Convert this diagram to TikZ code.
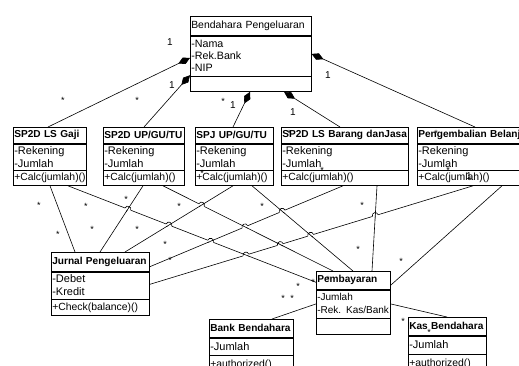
\documentclass[tikz,border=0pt]{standalone}
\usepackage{fontspec}
\setmainfont{Liberation Sans}
\usetikzlibrary{positioning,arrows.meta,calc}

% line jump: #1--#2 jumps over #3--#4 (#1 is the left end)
\newcommand\linehop[4]{%
  \coordinate (h) at (intersection of #1--#2 and #3--#4);
  \draw[white,line width=2pt] ($(h)!3pt!(#1)$) -- ($(h)!3pt!(#2)$);
  \draw ($(h)!3pt!(#3)$) -- ($(h)!3pt!(#4)$);
  \draw ($(h)!3pt!(#1)$) to[bend left=90,looseness=1.7] ($(h)!3pt!(#2)$);
}

\begin{document}
\begin{tikzpicture}
  [x=1pt,y=1pt,line width=0.6pt,
   every node/.style={inner xsep=1pt,inner ysep=0pt},
   box/.style={draw,anchor=north west,align=left},
   head/.style={box,font=\bfseries\fontsize{10.1}{12}\selectfont},
   attr/.style={box,font=\fontsize{11}{13}\selectfont},
   meth/.style={box,font=\fontsize{10.4}{12}\selectfont},
   mult/.style={font=\fontsize{9}{9}\selectfont,yshift=-2pt},
   one/.style={font=\fontsize{10}{10}\selectfont},
   comp/.style={-{Diamond[length=13pt,width=7pt]}}]
\useasboundingbox (0,0) rectangle (519,-365);
\clip (0,0) rectangle (519,-365);

% classes
\node (bend)[head,font=\fontsize{10.4}{12}\selectfont,text width=119pt,minimum height=19pt] at (190,-16) {Bendahara Pengeluaran};
\node (bend-a)[attr,font=\fontsize{10.7}{12.2}\selectfont,text width=119pt,minimum height=40pt,below=0pt of bend] {-Nama\\-Rek.Bank\\-NIP};
\node (bend-m)[meth,text width=119pt,minimum height=15pt,below=0pt of bend-a] {};

\node (gaji)[head,text width=71pt,minimum height=16pt] at (13,-127) {SP2D LS Gaji};
\node (gaji-a)[attr,text width=71pt,minimum height=26pt,below=0pt of gaji] {-Rekening\\-Jumlah};
\node (gaji-m)[meth,text width=71pt,minimum height=15pt,below=0pt of gaji-a] {+Calc(jumlah)()};

\node (upgu)[head,text width=79pt,minimum height=16pt] at (103,-127) {SP2D UP/GU/TU};
\node (upgu-a)[attr,text width=79pt,minimum height=26pt,below=0pt of upgu] {-Rekening\\-Jumlah};
\node (upgu-m)[meth,text width=79pt,minimum height=15pt,below=0pt of upgu-a] {+Calc(jumlah)()};

\node (spj)[head,text width=76pt,minimum height=16pt] at (195,-127) {SPJ UP/GU/TU};
\node (spj-a)[attr,text width=76pt,minimum height=26pt,below=0pt of spj] {-Rekening\\-Jumlah};
\node (spj-m)[meth,text width=76pt,minimum height=15pt,below=0pt of spj-a] {+Calc(jumlah)()};

\node (lsb)[head,text width=125pt,minimum height=16pt] at (281,-127) {SP2D LS Barang danJasa};
\node (lsb-a)[attr,text width=125pt,minimum height=26pt,below=0pt of lsb] {-Rekening\\-Jumlah};
\node (lsb-m)[meth,text width=125pt,minimum height=15pt,below=0pt of lsb-a] {+Calc(jumlah)()};

\node (peng)[head,text width=128pt,minimum height=16pt] at (417,-127) {Pengembalian Belanja};
\node (peng-a)[attr,text width=128pt,minimum height=26pt,below=0pt of peng] {-Rekening\\-Jumlah};
\node (peng-m)[meth,text width=128pt,minimum height=15pt,below=0pt of peng-a] {+Calc(jumlah)()};

\node (jurnal)[head,text width=96pt,minimum height=19pt] at (51,-252) {Jurnal Pengeluaran};
\node (jurnal-a)[attr,text width=96pt,minimum height=27pt,below=0pt of jurnal] {-Debet\\-Kredit};
\node (jurnal-m)[meth,text width=96pt,minimum height=16pt,below=0pt of jurnal-a] {+Check(balance)()};

\node (bayar)[head,text width=72pt,minimum height=18pt] at (316,-271) {Pembayaran};
\node (bayar-a)[attr,font=\fontsize{10}{13}\selectfont,text width=72pt,minimum height=28pt,below=0pt of bayar] {-Jumlah\\\mbox{-Rek. Kas/Bank}};
\node (bayar-m)[meth,text width=72pt,minimum height=16pt,below=0pt of bayar-a] {};

\node (bank)[head,text width=82pt,minimum height=18pt] at (209,-319) {Bank Bendahara};
\node (bank-a)[attr,text width=82pt,minimum height=17pt,below=0pt of bank] {-Jumlah};
\node (bank-m)[meth,text width=82pt,minimum height=18pt,below=0pt of bank-a] {+authorized()};

\node (kas)[head,text width=76pt,minimum height=18pt] at (408,-317) {Kas Bendahara};
\node (kas-a)[attr,text width=76pt,minimum height=18pt,below=0pt of kas] {-Jumlah};
\node (kas-m)[meth,text width=76pt,minimum height=18pt,below=0pt of kas-a] {+authorized()};

% connector ends
\coordinate (gajiT) at ([xshift=35pt]gaji.north west);
\coordinate (upguT) at ([xshift=41pt]upgu.north west);
\coordinate (spjT) at ([xshift=38pt]spj.north west);
\coordinate (lsbT) at ([xshift=59pt]lsb.north west);
\coordinate (pengT) at ([xshift=58pt]peng.north west);
\coordinate (bGaji) at ([yshift=-2pt]bend-a.west);
\coordinate (bUpgu) at ([yshift=1pt]bend-a.south west);
\coordinate (bSpj) at ([xshift=60pt]bend-m.south west);
\coordinate (bLsb) at ([xshift=94pt]bend-m.south west);
\coordinate (bPeng) at ([yshift=2pt]bend-a.east);
\coordinate (gajiJ) at ([xshift=37pt]gaji-m.south west);
\coordinate (gajiP) at ([xshift=55pt]gaji-m.south west);
\coordinate (upguJ) at ([xshift=40pt]upgu-m.south west);
\coordinate (upguP) at ([xshift=60pt]upgu-m.south west);
\coordinate (spjJ) at ([xshift=38pt]spj-m.south west);
\coordinate (spjP) at ([xshift=57pt]spj-m.south west);
\coordinate (lsbJ) at ([xshift=62pt]lsb-m.south west);
\coordinate (lsbP) at ([xshift=96pt]lsb-m.south west);
\coordinate (pengJ) at ([xshift=56pt]peng-m.south west);
\coordinate (pengP) at ([xshift=85pt]peng-m.south west);
\coordinate (jGaji) at ([xshift=24pt]jurnal.north west);
\coordinate (jUpgu) at ([xshift=49pt]jurnal.north west);
\coordinate (jSpj) at ([xshift=74pt]jurnal.north west);
\coordinate (jLsb) at ([yshift=-5pt]jurnal.east);
\coordinate (jPeng) at ([yshift=1pt]jurnal-a.east);
\coordinate (pGaji) at ([yshift=-2pt]bayar.west);
\coordinate (pUpgu) at ([xshift=17pt]bayar.north west);
\coordinate (pSpj) at ([xshift=37pt]bayar.north west);
\coordinate (pLsb) at ([xshift=56pt]bayar.north west);
\coordinate (pPeng) at ([yshift=-5pt]bayar.east);
\coordinate (bankT) at ([xshift=63pt]bank.north west);
\coordinate (kasT) at ([xshift=39pt]kas.north west);

% composition
\foreach \from/\to in {gajiT/bGaji,upguT/bUpgu,spjT/bSpj,lsbT/bLsb,pengT/bPeng}
  \draw[comp] (\from) -- (\to);

% associations
\foreach \from/\to in {gajiJ/jGaji,upguJ/jUpgu,spjJ/jSpj,lsbJ/jLsb,pengJ/jPeng,
    gajiP/pGaji,upguP/pUpgu,spjP/pSpj,lsbP/pLsb,pengP/pPeng}
  \draw (\from) -- (\to);
\draw (bayar-a.west) -- (bankT);
\draw (bayar-a.east) -- (kasT);

% jumps
\linehop{gajiP}{pGaji}{upguJ}{jUpgu}
\linehop{gajiP}{pGaji}{spjJ}{jSpj}
\linehop{upguP}{pUpgu}{spjJ}{jSpj}
\linehop{gajiP}{pGaji}{lsbJ}{jLsb}
\linehop{jLsb}{lsbJ}{upguP}{pUpgu}
\linehop{jLsb}{lsbJ}{spjP}{pSpj}
\linehop{jPeng}{pengJ}{gajiP}{pGaji}
\linehop{jPeng}{pengJ}{upguP}{pUpgu}
\linehop{jPeng}{pengJ}{spjP}{pSpj}
\linehop{jPeng}{pengJ}{lsbP}{pLsb}

% multiplicities
\foreach \x/\y [count=\i] in {63/98,137/98,223/99,39/203,86/204,126/197,179/204,
    262/204,362/203,58/232,92/227,137/227,165/242,170/258,358/247,401/259,
    298/284,313/280,283/296,292/296,403/319,289/131,436/131,322/168,448/168,
    202/171,328/277,429/330}
  \node (m\i)[mult] at (\x,-\y) {*};
\foreach \x/\y [count=\i] in {170/42,172/85,233/105,293/112,328/75,469/176}
  \node (o\i)[one] at (\x,-\y) {1};
\end{tikzpicture}
\end{document}
